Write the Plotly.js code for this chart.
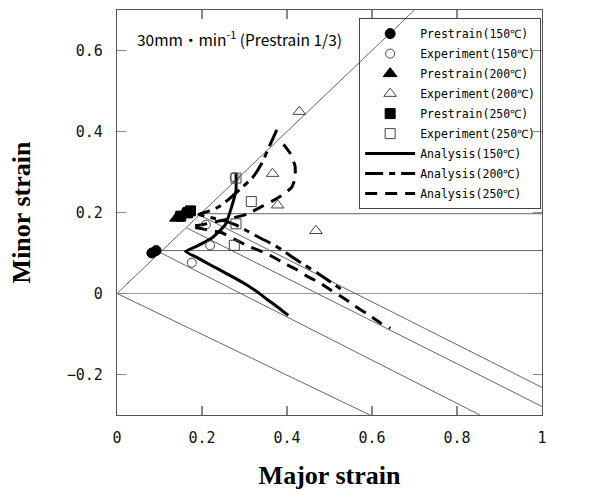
<!DOCTYPE html>
<html><head><meta charset="utf-8">
<script src="https://cdn.plot.ly/plotly-3.0.1.min.js"></script>
<style>html,body{margin:0;padding:0;background:#fff}</style>
</head><body>
<div id="chart" style="width:611px;height:490px"></div>
<script>
// ---- axes ----
const xTicks = [0, 0.2, 0.4, 0.6, 0.8, 1];
const yTicks = [-0.2, 0, 0.2, 0.4, 0.6];

// ---- legend names ----
const seriesNames = ['Prestrain(150℃)', 'Experiment(150℃)', 'Prestrain(200℃)', 'Experiment(200℃)',
  'Prestrain(250℃)', 'Experiment(250℃)', 'Analysis(150℃)', 'Analysis(200℃)', 'Analysis(250℃)'];

// ---- measured points ----
const prestrain150X = [0.082, 0.092];
const prestrain150Y = [0.100, 0.106];
const experiment150X = [0.176, 0.219, 0.209, 0.277];
const experiment150Y = [0.076, 0.119, 0.170, 0.287];
const prestrain200X = [0.140, 0.158];
const prestrain200Y = [0.186, 0.199];
const experiment200X = [0.429, 0.366, 0.378, 0.468];
const experiment200Y = [0.449, 0.296, 0.218, 0.155];
const prestrain250X = [0.150, 0.166, 0.173];
const prestrain250Y = [0.191, 0.199, 0.204];
const experiment250X = [0.280, 0.316, 0.280, 0.276];
const experiment250Y = [0.285, 0.227, 0.172, 0.119];

// ---- analysis curves ----
const analysis150X = [0.280, 0.280, 0.270, 0.255, 0.223, 0.188, 0.161, 0.190, 0.219, 0.260, 0.298, 0.330, 0.355, 0.380, 0.403];
const analysis150Y = [0.297, 0.255, 0.215, 0.170, 0.137, 0.117, 0.104, 0.088, 0.071, 0.048, 0.026, 0.004, -0.016, -0.035, -0.054];
const analysis200X = [0.376, 0.360, 0.341, 0.318, 0.290, 0.262, 0.240, 0.215, 0.192, 0.223, 0.250, 0.278, 0.300, 0.337, 0.360, 0.388, 0.415, 0.440, 0.470, 0.500, 0.535];
const analysis200Y = [0.404, 0.367, 0.322, 0.285, 0.258, 0.232, 0.214, 0.203, 0.195, 0.187, 0.180, 0.170, 0.158, 0.137, 0.125, 0.108, 0.088, 0.071, 0.052, 0.030, 0.005];
const analysis250X = [0.392, 0.408, 0.419, 0.419, 0.411, 0.392, 0.365, 0.341, 0.306, 0.275, 0.240, 0.205, 0.175, 0.210, 0.247, 0.278, 0.309, 0.337, 0.364, 0.396, 0.423, 0.450, 0.478, 0.505, 0.533, 0.560, 0.588, 0.619, 0.643];
const analysis250Y = [0.368, 0.345, 0.315, 0.285, 0.262, 0.245, 0.228, 0.215, 0.196, 0.187, 0.179, 0.171, 0.165, 0.158, 0.150, 0.133, 0.117, 0.105, 0.092, 0.073, 0.059, 0.041, 0.026, 0.007, -0.011, -0.031, -0.050, -0.072, -0.086];

// ---- guide (strain path) lines ----
const guideEquibiaxialX = [0, 0.7],      guideEquibiaxialY = [0, 0.7];
const guidePlaneAX = [0, 1],             guidePlaneAY = [0, 0];
const guidePlaneBX = [0.100, 1],         guidePlaneBY = [0.106, 0.106];
const guidePlaneCX = [0.192, 1],         guidePlaneCY = [0.197, 0.197];
const guideUniaxAX = [0, 0.595],         guideUniaxAY = [0, -0.3];
const guideUniaxBX = [0.100, 0.854],     guideUniaxBY = [0.102, -0.3];
const guideUniaxCX = [0.164, 1],         guideUniaxCY = [0.162, -0.279];
const guideUniaxDX = [0.192, 1],         guideUniaxDY = [0.195, -0.232];

const guides = [
  [guideEquibiaxialX, guideEquibiaxialY, '#666'],
  [guidePlaneAX, guidePlaneAY, '#999'],
  [guidePlaneBX, guidePlaneBY, '#666'],
  [guidePlaneCX, guidePlaneCY, '#666'],
  [guideUniaxAX, guideUniaxAY, '#666'],
  [guideUniaxBX, guideUniaxBY, '#666'],
  [guideUniaxCX, guideUniaxCY, '#666'],
  [guideUniaxDX, guideUniaxDY, '#666']
];

const traces = [];
guides.forEach(g => traces.push({
  x: g[0], y: g[1], mode: 'lines', type: 'scatter', showlegend: false,
  line: {color: g[2], width: 1}, hoverinfo: 'skip'
}));

function curve(x, y, name, dash, rank) {
  return {x: x, y: y, name: name, type: 'scatter', mode: 'lines', legendrank: rank, legendgroup: 'g' + rank,
    line: {color: '#000', width: 3, dash: dash, shape: 'spline', smoothing: 0.4}};
}
function pts(x, y, name, symbol, size, rank) {
  const open = symbol.indexOf('open') >= 0;
  return {x: x, y: y, name: name, type: 'scatter', mode: 'markers', legendrank: rank, legendgroup: 'g' + rank,
    marker: {symbol: symbol, size: size, color: open ? '#444' : '#000', line: {color: open ? '#444' : '#000', width: 1}}};
}

traces.push(curve(analysis150X, analysis150Y, seriesNames[6], 'solid', 7));
traces.push(curve(analysis200X, analysis200Y, seriesNames[7], '18px,6px,6px,6px', 8));
traces.push(curve(analysis250X, analysis250Y, seriesNames[8], '12px,8px', 9));
traces.push(pts(prestrain150X, prestrain150Y, seriesNames[0], 'circle', 10, 1));
traces.push(pts(experiment150X, experiment150Y, seriesNames[1], 'circle-open', 9, 2));
traces.push(pts(prestrain200X, prestrain200Y, seriesNames[2], 'triangle-up', 12, 3));
traces.push(pts(experiment200X, experiment200Y, seriesNames[3], 'triangle-up-open', 11, 4));
traces.push(pts(prestrain250X, prestrain250Y, seriesNames[4], 'square', 10, 5));
traces.push(pts(experiment250X, experiment250Y, seriesNames[5], 'square-open', 10, 6));

const tickFont = {family: 'DejaVu Sans Mono', size: 15, color: '#111'};
const titleFont = {family: 'Liberation Serif', size: 26, color: '#000', weight: 'bold'};

const layout = {
  width: 611, height: 490,
  margin: {l: 117, r: 69, t: 10, b: 75},
  paper_bgcolor: '#fff', plot_bgcolor: '#fff',
  xaxis: {range: [0, 1], tickvals: xTicks, ticks: 'inside', ticklen: 9, tickcolor: '#888', tickwidth: 1.5,
    showline: true, linecolor: '#555', linewidth: 1.2, mirror: 'ticks', showgrid: false, zeroline: false,
    tickfont: tickFont, ticklabelstandoff: 9,
    title: {text: 'Major strain', font: titleFont, standoff: 22}},
  yaxis: {range: [-0.3, 0.7], tickvals: yTicks, ticks: 'inside', ticklen: 9, tickcolor: '#888', tickwidth: 1.5,
    showline: true, linecolor: '#555', linewidth: 1.2, mirror: 'ticks', showgrid: false, zeroline: false,
    tickfont: tickFont, ticklabelstandoff: 10,
    title: {text: 'Minor strain', font: titleFont, standoff: 28}},
  showlegend: true,
  legend: {x: 0.998, y: 0.98, xanchor: 'right', yanchor: 'top', bgcolor: 'rgba(255,255,255,0)',
    bordercolor: '#444', borderwidth: 1, itemwidth: 50, tracegroupgap: 1,
    font: {family: 'DejaVu Sans Mono', size: 11.5, color: '#000'}},
  annotations: [{
    xref: 'paper', yref: 'paper', x: 0.043, y: 0.931, xanchor: 'left', yanchor: 'middle', showarrow: false,
    text: '30mm・min<sup>-1</sup> (Prestrain 1/3)',
    font: {family: 'Noto Sans CJK JP', size: 15.5, color: '#000'}
  }],
  hovermode: false
};

Plotly.newPlot('chart', traces, layout, {staticPlot: true, displayModeBar: false});
</script>
</body></html>
